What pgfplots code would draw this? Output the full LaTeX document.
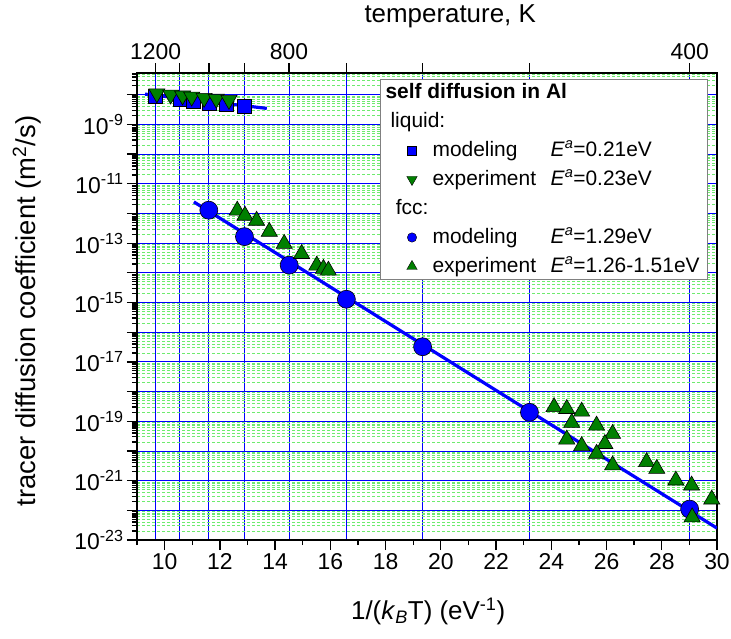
\documentclass[border=0pt]{standalone}
\usepackage{fontspec}
\setmainfont{Liberation Sans}
\usepackage{pgfplots}
\pgfplotsset{compat=1.18}
\usepackage{pgfplotstable}
\definecolor{dblue}{RGB}{0,0,255}
\definecolor{dgreen}{RGB}{0,128,0}
\definecolor{lgreen}{RGB}{110,235,110}

\pgfplotstableread{
x y
9.67 8.91e-9
10.55 6.76e-9
11.05 6.03e-9
11.60 5.25e-9
12.22 4.68e-9
12.89 4.17e-9
}\liqmod
\pgfplotstableread{
x y
9.72 1.10e-8
10.22 1.00e-8
10.65 9.33e-9
10.98 8.51e-9
11.43 7.76e-9
11.87 7.24e-9
12.33 6.61e-9
}\liqexp
\pgfplotstableread{
x y
11.60 1.29e-12
12.89 1.66e-13
14.51 1.82e-14
16.58 1.29e-15
19.34 3.24e-17
23.21 2.0e-19
29.01 1.10e-22
}\fccmod
\pgfplotstableread{
x y
12.63 1.26e-12
12.91 8.51e-13
13.33 5.75e-13
13.79 2.45e-13
14.33 9.55e-14
14.96 4.37e-14
15.51 1.78e-14
15.75 1.38e-14
15.93 1.20e-14
24.10 3.02e-19
24.56 2.63e-19
25.10 2.14e-19
24.74 8.91e-20
25.64 7.24e-20
26.22 3.80e-20
25.94 1.74e-20
24.56 2.45e-20
25.10 1.48e-20
25.64 8.13e-21
26.22 3.31e-21
27.45 4.27e-21
27.82 2.51e-21
28.51 1.02e-21
29.08 6.92e-22
29.81 2.34e-22
29.10 5.89e-23
}\fccexp

\begin{document}
\begin{tikzpicture}
\useasboundingbox (-137bp,-99bp) rectangle (594bp,540bp);
% top axis: temperature ticks and vertical grid
\begin{axis}[
  scale only axis, width=580bp, height=467bp,
  xmin=9, xmax=30, ymin=1e-23, ymax=5.4e-8, ymode=log,
  axis line style={draw=none},
  xtick pos=right, ytick=\empty,
  xtick={9.6709,10.5501,11.6045,12.8939,14.5056,16.5778,19.3409,23.2090,29.0113},
  xticklabels={1200,,,,800,,,,400},
  xmajorgrids, major grid style={dblue, line width=0.9bp},
  tick align=outside, major tick length=10bp,
  tick style={black, line width=1.3bp},
  ticklabel style={font=\fontsize{23}{27}\selectfont},
  xlabel={temperature, K},
  xlabel style={font=\fontsize{26}{30}\selectfont, at={(axis description cs:0.540,1.122)}, anchor=center},
]
\addplot[draw=none, forget plot] coordinates {(10,1e-10)};
\end{axis}
% main axis
\begin{axis}[
  scale only axis, width=580bp, height=467bp,
  xmin=9, xmax=30, ymin=1e-23, ymax=5.4e-8, ymode=log,
  axis line style={black, line width=1.6bp},
  xtick pos=left, ytick pos=left,
  xtick={10,12,...,30}, minor xtick={9,11,...,29},
  ytick={1e-23,1e-22,1e-21,1e-20,1e-19,1e-18,1e-17,1e-16,1e-15,1e-14,1e-13,1e-12,1e-11,1e-10,1e-9,1e-8},
  yticklabels={10\textsuperscript{-23},,10\textsuperscript{-21},,10\textsuperscript{-19},,10\textsuperscript{-17},,10\textsuperscript{-15},,10\textsuperscript{-13},,10\textsuperscript{-11},,10\textsuperscript{-9},},
  minor ytick={2e-23,3e-23,4e-23,5e-23,6e-23,7e-23,8e-23,9e-23,
    2e-22,3e-22,4e-22,5e-22,6e-22,7e-22,8e-22,9e-22,
    2e-21,3e-21,4e-21,5e-21,6e-21,7e-21,8e-21,9e-21,
    2e-20,3e-20,4e-20,5e-20,6e-20,7e-20,8e-20,9e-20,
    2e-19,3e-19,4e-19,5e-19,6e-19,7e-19,8e-19,9e-19,
    2e-18,3e-18,4e-18,5e-18,6e-18,7e-18,8e-18,9e-18,
    2e-17,3e-17,4e-17,5e-17,6e-17,7e-17,8e-17,9e-17,
    2e-16,3e-16,4e-16,5e-16,6e-16,7e-16,8e-16,9e-16,
    2e-15,3e-15,4e-15,5e-15,6e-15,7e-15,8e-15,9e-15,
    2e-14,3e-14,4e-14,5e-14,6e-14,7e-14,8e-14,9e-14,
    2e-13,3e-13,4e-13,5e-13,6e-13,7e-13,8e-13,9e-13,
    2e-12,3e-12,4e-12,5e-12,6e-12,7e-12,8e-12,9e-12,
    2e-11,3e-11,4e-11,5e-11,6e-11,7e-11,8e-11,9e-11,
    2e-10,3e-10,4e-10,5e-10,6e-10,7e-10,8e-10,9e-10,
    2e-9,3e-9,4e-9,5e-9,6e-9,7e-9,8e-9,9e-9,
    2e-8,3e-8,4e-8,5e-8},
  ymajorgrids, yminorgrids,
  major grid style={dblue, line width=0.9bp},
  minor grid style={lgreen, line width=0.9bp, dash pattern=on 3bp off 2bp},
  tick align=outside, major tick length=10bp, minor tick length=5bp,
  tick style={black, line width=1.3bp},
  /pgf/number format/assume math mode=true,
  ticklabel style={font=\fontsize{23}{27}\selectfont},
  xlabel={1/(\textit{k}\textsubscript{\textit{B}}T) (eV\textsuperscript{-1})},
  xlabel style={font=\fontsize{26}{30}\selectfont, at={(axis description cs:0.502,-0.154)}, anchor=center},
  ylabel={tracer diffusion coefficient (m\textsuperscript{2}/s)},
  ylabel style={font=\fontsize{27.5}{32}\selectfont, at={(axis description cs:-0.19,0.49)}, anchor=center},
  legend cell align=left,
  legend style={draw=gray, line width=0.8bp, fill=white, at={(axis description cs:0.9845,0.987)}, anchor=north east,
    font=\fontsize{21}{25}\selectfont, inner xsep=23.5bp, inner ysep=3bp, row sep=9bp, column sep=15.4bp,
    nodes={inner sep=0pt, text height=16bp, text depth=4bp}},
]
\addplot[dblue, line width=3.2bp, forget plot] coordinates {(9.29,1.05e-8) (13.70,3.47e-9)};
\addplot[only marks, mark=square*, mark size=7bp, mark options={fill=dblue, draw=black, line width=0.6bp}, forget plot] table {\liqmod};
\addplot[only marks, mark=triangle*, mark size=9.3bp, mark options={rotate=180, fill=dgreen, draw=black, line width=0.6bp}, forget plot] table {\liqexp};
\addplot[dblue, line width=3.2bp, forget plot] coordinates {(11.06,2.45e-12) (30,2.51e-23)};
\addplot[only marks, mark=*, mark size=9bp, mark options={fill=dblue, draw=black, line width=0.6bp}, forget plot] table {\fccmod};
\addplot[only marks, mark=triangle*, mark size=9.3bp, mark options={fill=dgreen, draw=black, line width=0.6bp}, forget plot] table {\fccexp};

\addlegendimage{empty legend}
\addlegendentry{\hspace*{-47bp}\textbf{self diffusion in Al}}
\addlegendimage{empty legend}
\addlegendentry{\hspace*{-42bp}liquid:}
\addlegendimage{only marks, mark=square*, mark size=4.5bp, mark options={fill=dblue, draw=black, line width=0.4bp}}
\addlegendentry{\makebox[118bp][l]{modeling}\textit{E}\textsuperscript{\textit{a}}=0.21eV}
\addlegendimage{only marks, mark=triangle*, mark size=6bp, mark options={rotate=180, fill=dgreen, draw=black, line width=0.4bp}}
\addlegendentry{\makebox[118bp][l]{experiment}\textit{E}\textsuperscript{\textit{a}}=0.23eV}
\addlegendimage{empty legend}
\addlegendentry{\hspace*{-42bp}fcc:}
\addlegendimage{only marks, mark=*, mark size=4.7bp, mark options={fill=dblue, draw=black, line width=0.4bp}}
\addlegendentry{\makebox[118bp][l]{modeling}\textit{E}\textsuperscript{\textit{a}}=1.29eV}
\addlegendimage{only marks, mark=triangle*, mark size=6bp, mark options={fill=dgreen, draw=black, line width=0.4bp}}
\addlegendentry{\makebox[118bp][l]{experiment}\textit{E}\textsuperscript{\textit{a}}=1.26-1.51eV\hspace*{-15.5bp}}
\end{axis}
\end{tikzpicture}
\end{document}
